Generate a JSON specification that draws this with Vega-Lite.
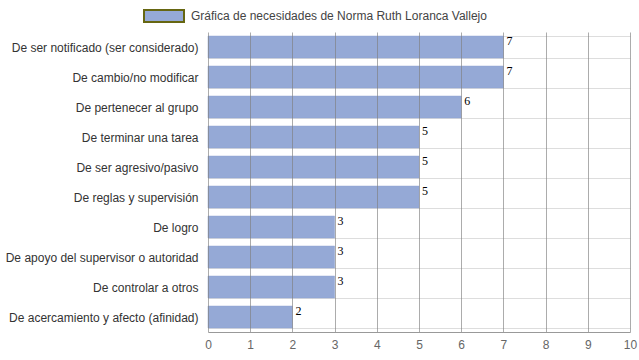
{
  "$schema": "https://vega.github.io/schema/vega-lite/v6.json",
  "autosize": {"type": "none"},
  "width": 422,
  "height": 300,
  "padding": {"left": 208, "top": 32, "right": 9, "bottom": 28},
  "background": "white",
  "config": {
    "view": {"stroke": null},
    "font": "Liberation Sans"
  },
  "data": {
    "values": [
      {"necesidad": "De ser notificado (ser considerado)", "valor": 7, "serie": "Gráfica de necesidades de Norma Ruth Loranca Vallejo"},
      {"necesidad": "De cambio/no modificar", "valor": 7, "serie": "Gráfica de necesidades de Norma Ruth Loranca Vallejo"},
      {"necesidad": "De pertenecer al grupo", "valor": 6, "serie": "Gráfica de necesidades de Norma Ruth Loranca Vallejo"},
      {"necesidad": "De terminar una tarea", "valor": 5, "serie": "Gráfica de necesidades de Norma Ruth Loranca Vallejo"},
      {"necesidad": "De ser agresivo/pasivo", "valor": 5, "serie": "Gráfica de necesidades de Norma Ruth Loranca Vallejo"},
      {"necesidad": "De reglas y supervisión", "valor": 5, "serie": "Gráfica de necesidades de Norma Ruth Loranca Vallejo"},
      {"necesidad": "De logro", "valor": 3, "serie": "Gráfica de necesidades de Norma Ruth Loranca Vallejo"},
      {"necesidad": "De apoyo del supervisor o autoridad", "valor": 3, "serie": "Gráfica de necesidades de Norma Ruth Loranca Vallejo"},
      {"necesidad": "De controlar a otros", "valor": 3, "serie": "Gráfica de necesidades de Norma Ruth Loranca Vallejo"},
      {"necesidad": "De acercamiento y afecto (afinidad)", "valor": 2, "serie": "Gráfica de necesidades de Norma Ruth Loranca Vallejo"}
    ]
  },
  "encoding": {
    "y": {
      "field": "necesidad",
      "type": "nominal",
      "sort": null,
      "scale": {"paddingInner": 0.27, "paddingOuter": 0.135},
      "axis": {
        "title": null,
        "ticks": false,
        "domain": false,
        "grid": true,
        "gridColor": "#dddddd",
        "tickBand": "extent",
        "labelFontSize": 12,
        "labelColor": "#333333",
        "labelPadding": 10,
        "labelLimit": 250
      }
    },
    "x": {
      "field": "valor",
      "type": "quantitative",
      "scale": {"domain": [0, 10], "nice": false},
      "axis": {
        "title": null,
        "values": [0,1,2,3,4,5,6,7,8,9,10],
        "ticks": false,
        "domainColor": "#999999",
        "grid": true,
        "gridColor": "#808080",
        "gridOpacity": 0.65,
        "labelFontSize": 12,
        "labelColor": "#666666",
        "labelPadding": 7,
        "labelFlush": false,
        "labelOverlap": false,
        "zindex": 1
      }
    }
  },
  "layer": [
    {
      "mark": {"type": "bar", "stroke": "#8ea3d2", "strokeWidth": 0.5},
      "encoding": {
        "color": {
          "field": "serie",
          "type": "nominal",
          "scale": {"range": ["#95a9d6"]},
          "legend": {
            "title": null,
            "orient": "none",
            "legendX": -65,
            "legendY": -37,
            "symbolType": "M-1,-0.3H1V0.3H-1Z",
            "symbolSize": 1600,
            "symbolStrokeColor": "#666611",
            "symbolStrokeWidth": 2,
            "symbolOpacity": 1,
            "labelFontSize": 12,
            "labelColor": "#444444",
            "labelLimit": 500,
            "labelOffset": 6
          }
        }
      }
    },
    {
      "mark": {"type": "text", "align": "left", "baseline": "middle", "dx": 3, "dy": -6, "font": "Liberation Serif", "fontSize": 12, "color": "#000000"},
      "encoding": {
        "text": {"field": "valor", "type": "quantitative"}
      }
    }
  ]
}
